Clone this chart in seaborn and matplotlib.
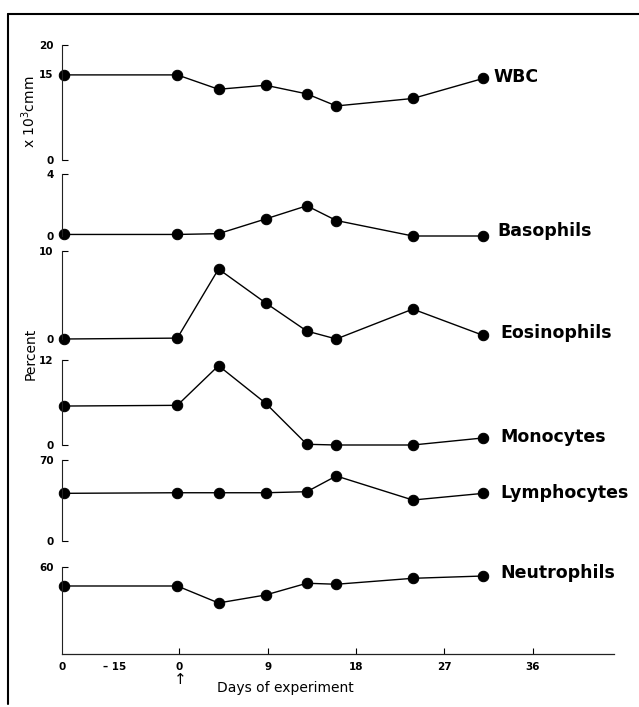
import matplotlib
matplotlib.use("Agg")
import matplotlib.pyplot as plt
import seaborn as sns
import pandas as pd
from matplotlib.lines import Line2D

# ---- data ----
days = [-11.7, -0.2, 4.0, 8.8, 13.0, 16.0, 23.8, 31.0]
wbc = [14.8, 14.8, 12.3, 13.0, 11.5, 9.4, 10.7, 14.2]
basophils = [0.1, 0.1, 0.15, 1.1, 1.95, 1.0, 0.0, 0.0]
eosinophils = [0.0, 0.1, 7.95, 4.1, 0.9, 0.0, 3.4, 0.4]
monocytes = [5.5, 5.6, 11.2, 5.9, 0.1, 0.0, 0.0, 1.0]
lymphocytes = [41.2, 41.7, 41.7, 41.7, 42.6, 56.2, 35.4, 41.2]
neutrophils = [46.9, 46.9, 35.2, 40.7, 48.8, 48.1, 52.2, 53.8]

series_names = ["WBC", "Basophils", "Eosinophils", "Monocytes", "Lymphocytes", "Neutrophils"]
series_values = [wbc, basophils, eosinophils, monocytes, lymphocytes, neutrophils]
y_tops = [20, 4, 10, 12, 70, 60]
y_ticks = [[0, 15, 20], [0, 4], [0, 10], [0, 12], [0, 70], [60]]

x_tick_pos = [-11.9, -6.6, 0, 9, 18, 27, 36]
x_tick_labels = ["0", "\u2013 15", "0", "9", "18", "27", "36"]

# ---- layout (pixels) ----
W, H = 639, 707
panel_px = [(45, 160), (174, 236), (251, 339), (360, 445), (460, 541), (567, 654)]
label_px = [(493, 77), (497, 231), (500, 333), (500, 437), (500, 493), (500, 573)]
x_left_px, x_right_px = 62, 614
xlim = (-11.95, 44.3)

sns.set_style("white")
plt.rcParams["font.family"] = ["DejaVu Sans"]
for k in ["text.color", "axes.labelcolor", "xtick.color", "ytick.color", "axes.edgecolor"]:
    plt.rcParams[k] = "black"

fig = plt.figure(figsize=(W / 100, H / 100), dpi=100)

for i, (name, vals) in enumerate(zip(series_names, series_values)):
    top, bot = panel_px[i]
    ax = fig.add_axes([x_left_px / W, 1 - bot / H, (x_right_px - x_left_px) / W, (bot - top) / H])
    ax.patch.set_alpha(0)
    df = pd.DataFrame({"day": days, "value": vals})
    sns.lineplot(data=df, x="day", y="value", ax=ax, color="black", marker="o",
                 markersize=7.5, markeredgecolor="black", linewidth=1.0, clip_on=False)
    ax.set_xlim(*xlim)
    ax.set_ylim(0, y_tops[i])
    ax.set_xlabel("")
    ax.set_ylabel("")
    for s in ["top", "right"]:
        ax.spines[s].set_visible(False)
    ax.spines["left"].set_linewidth(0.8)
    ax.spines["left"].set_color("#222222")
    ax.set_yticks(y_ticks[i])
    ax.set_yticklabels([str(t) for t in y_ticks[i]], fontsize=7.5, fontweight="bold")
    ax.tick_params(axis="y", direction="in", length=4, width=0.8, pad=6, left=True)
    if i < len(series_names) - 1:
        ax.spines["bottom"].set_visible(False)
        ax.set_xticks([])
    else:
        ax.spines["bottom"].set_linewidth(0.9)
        ax.spines["bottom"].set_color("#222222")
        ax.set_xticks(x_tick_pos)
        ax.set_xticklabels(x_tick_labels, fontsize=7.5, fontweight="bold")
        ax.tick_params(axis="x", direction="in", length=4, width=0.8, pad=6, bottom=True)
        ticks = ax.xaxis.get_major_ticks()
        ticks[0].tick1line.set_visible(False)
        ticks[1].tick1line.set_visible(False)
    lx, ly = label_px[i]
    fig.text(lx / W, 1 - ly / H, name, fontsize=12.5, fontweight="bold",
             ha="left", va="center", color="black")

# axis titles
fig.text(29 / W, 1 - 112 / H, "x 10$^3$cmm", rotation=90, fontsize=10,
         ha="center", va="center")
fig.text(31 / W, 1 - 354 / H, "Percent", rotation=90, fontsize=10,
         ha="center", va="center")
fig.text(217 / W, 1 - 688 / H, "Days of experiment", fontsize=10,
         ha="left", va="center")
fig.text(180 / W, 1 - 679 / H, "\u2191", fontsize=11, ha="center", va="center")

# frame lines (top and left)
fig.add_artist(Line2D([8 / W, 1.0], [1 - 14 / H, 1 - 14 / H], color="black", lw=1.5))
fig.add_artist(Line2D([8 / W, 8 / W], [1 - 14 / H, 1 - 704 / H], color="black", lw=1.5))

fig.savefig("out.png", dpi=100)
